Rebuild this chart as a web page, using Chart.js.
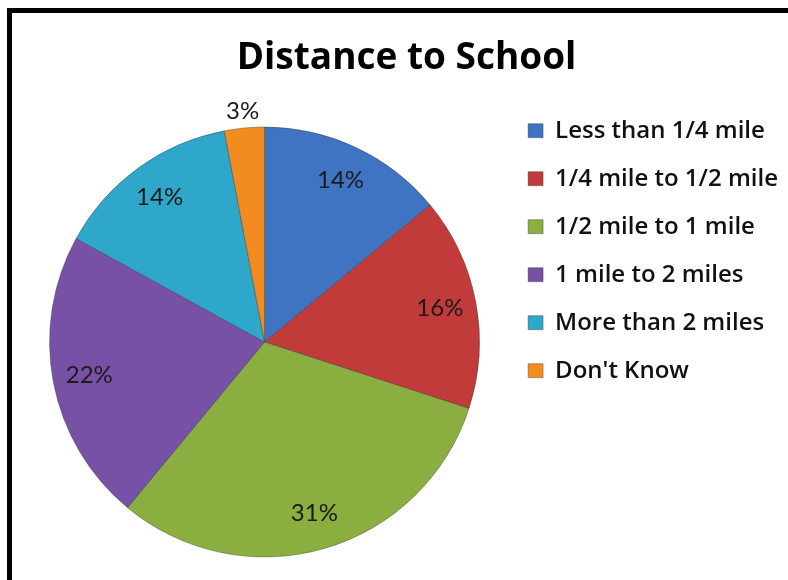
<!DOCTYPE html>
<html>
<head>
<meta charset="utf-8">
<script src="https://cdn.jsdelivr.net/npm/chart.js@4/dist/chart.umd.min.js"></script>
<style>
    html, body { margin: 0; padding: 0; background: #fff; }
    #wrap { position: relative; width: 788px; height: 580px; }
    #frame { position: absolute; left: 7px; top: 8px; right: 0; bottom: 0; border-left: 5px solid #000; border-top: 5px solid #000; pointer-events: none; }
</style>
</head>
<body>
<div id="wrap">
    <canvas id="chart" width="788" height="580"></canvas>
    <div id="frame"></div>
</div>
<script>
var categories = [
    'Less than 1/4 mile',
    '1/4 mile to 1/2 mile',
    '1/2 mile to 1 mile',
    '1 mile to 2 miles',
    'More than 2 miles',
    "Don't Know"
];
var percents = [14, 16, 31, 22, 14, 3];

var color = [
    '#3e74c1',
    '#c03b39',
    '#8aae40',
    '#7651a5',
    '#2ea7ca',
    '#f28b20'
];

// percent labels inside the slices, small slices go outside
var sliceLabels = {
    id: 'sliceLabels',
    afterDatasetsDraw: function (chart) {
        var ctx = chart.ctx;
        var meta = chart.getDatasetMeta(0);
        ctx.save();
        ctx.font = '24px Lato';
        ctx.fillStyle = '#1b1b1b';
        ctx.textAlign = 'center';
        ctx.textBaseline = 'middle';
        meta.data.forEach(function (arc, i) {
            var p = arc.getProps(['x', 'y', 'startAngle', 'endAngle', 'outerRadius'], true);
            var mid = (p.startAngle + p.endAngle) / 2;
            var r = p.outerRadius * (percents[i] < 5 ? 1.08 : 0.83);
            ctx.fillText(percents[i] + '%', p.x + Math.cos(mid) * r, p.y + Math.sin(mid) * r);
        });
        ctx.restore();
    }
};

new Chart(document.getElementById('chart'), {
    type: 'pie',
    data: {
        labels: categories,
        datasets: [{
            data: percents,
            backgroundColor: color,
            borderColor: 'rgba(40,40,40,0.35)',
            borderWidth: 1,
            radius: 215
        }]
    },
    options: {
        responsive: false,
        animation: false,
        events: [],
        layout: {
            padding: { left: 25, right: 0, top: 0, bottom: 0 }
        },
        plugins: {
            title: {
                display: true,
                text: 'Distance to School',
                color: '#000',
                font: { family: 'Open Sans', size: 37, weight: 'bold' },
                padding: { top: 36, bottom: 23.6 }
            },
            legend: {
                position: 'right',
                align: 'start',
                // empty legend title just pushes the keys down below the chart title
                title: {
                    display: true,
                    text: ' ',
                    font: { size: 12 },
                    padding: { top: 0, bottom: 80.3 }
                },
                labels: {
                    color: '#111',
                    font: { family: 'Open Sans', size: 24, weight: '600' },
                    boxWidth: 15,
                    boxHeight: 14,
                    padding: 24
                }
            },
            tooltip: { enabled: false }
        }
    },
    plugins: [sliceLabels]
});
</script>
</body>
</html>
